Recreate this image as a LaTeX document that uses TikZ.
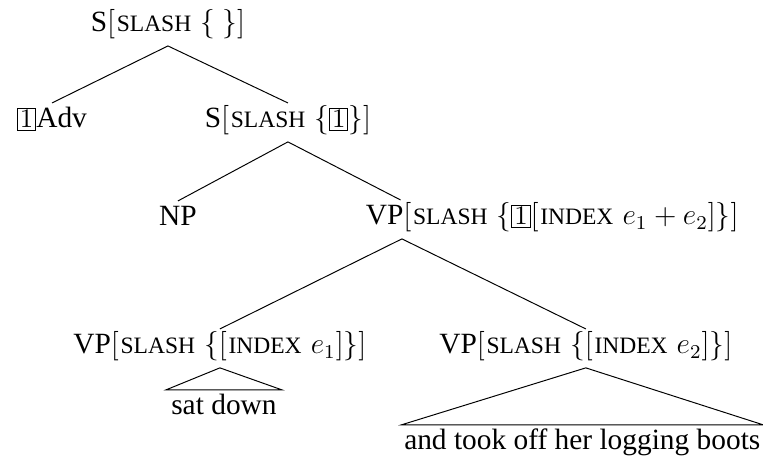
\documentclass[tikz,border=0pt]{standalone}
\usepackage{amsmath,amssymb}
\usepackage{fontspec}
\setmainfont{Liberation Serif}
\usepackage{tikz}
\usetikzlibrary{positioning}

% kleine hoofdletters voor features en een omkaderde tag
\newcommand{\feat}[1]{\kern0.7pt\relax{\fontsize{9.6}{10}\selectfont #1}\kern0.7pt\relax}
\newcommand{\tagbox}[1]{{\setlength{\fboxsep}{0.8pt}\setlength{\fboxrule}{0.4pt}\fbox{\fontsize{10.5}{11}\selectfont$#1$}}}

\begin{document}
\begin{tikzpicture}[font=\fontsize{12}{14}\selectfont,
		boom/.style={anchor=base, inner sep=1pt, text height=9pt, text depth=4.5pt},
		blad/.style={anchor=base, inner sep=1pt, inner xsep=2pt, text height=9pt, text depth=3pt}]
		\useasboundingbox (0,0) rectangle (10.95,-6.615);

		% Knopen van de boom
		\node[boom] (root) at (2.41,-0.459) {S$[$\feat{SLASH} $\{$ $\}]$};
		\node[boom] (adv) at (0.746,-1.836) {\tagbox{1}Adv};
		\node[boom] (s2) at (4.132,-1.836) {S$[$\feat{SLASH} $\{$\tagbox{1}$\}]$};
		\node[boom] (np) at (2.554,-3.242) {NP};
		\node[boom, anchor=base west] (vp) at (5.208,-3.228) {VP$[$\feat{SLASH} $\{$\tagbox{1}$[$\feat{INDEX} $e_1+e_2]\}]$};
		\node[boom] (vpa) at (3.156,-5.079) {VP$[$\feat{SLASH} $\{[$\feat{INDEX} $e_1]\}]$};
		\node[boom] (vpb) at (8.407,-5.079) {VP$[$\feat{SLASH} $\{[$\feat{INDEX} $e_2]\}]$};
		\node[blad] (sat) at (3.214,-5.954) {sat down};
		\node[blad, inner xsep=1pt] (took) at (8.357,-6.456) {and took off her logging boots};

		% Hoofd van de VP (lijnen hangen aan "VP", niet aan het midden)
		\coordinate (vptop) at ([xshift=0.54cm]vp.north west);
		\coordinate (vpbot) at ([xshift=0.56cm]vp.south west);

		% Takken
		\draw (root.south) -- (adv.north);
		\draw (root.south) -- (s2.north);
		\draw (s2.south) -- (np.north);
		\draw (s2.south) -- (vptop);
		\draw (vpbot) -- (vpa.north);
		\draw (vpbot) -- (vpb.north);

		% Driehoeken
		\draw (vpa.south) -- (sat.north west) -- (sat.north east) -- cycle;
		\draw (vpb.south) -- (took.north west) -- (took.north east) -- cycle;
	\end{tikzpicture}
\end{document}
